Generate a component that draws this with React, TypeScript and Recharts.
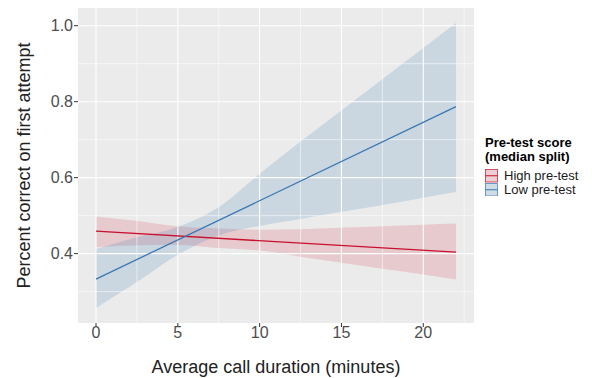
import { ComposedChart, Area, Line, XAxis, YAxis, CartesianGrid, ReferenceLine } from 'recharts';

// call duration (minutes) where the bands were read
const durations = [0, 2.5, 5, 7.5, 10, 12.5, 15, 17.5, 20, 22];

// High pre-test group
const highFit = [0.459, null, null, null, null, null, null, null, null, 0.404];
const highLower = [0.417, 0.422, 0.423, 0.415, 0.408, 0.392, 0.376, 0.36, 0.345, 0.332];
const highUpper = [0.498, 0.486, 0.472, 0.466, 0.463, 0.464, 0.468, 0.472, 0.476, 0.479];

// Low pre-test group
const lowFit = [0.333, null, null, null, null, null, null, null, null, 0.787];
const lowLower = [0.257, 0.325, 0.397, 0.448, 0.473, 0.491, 0.51, 0.528, 0.547, 0.562];
const lowUpper = [0.412, 0.443, 0.47, 0.522, 0.61, 0.695, 0.777, 0.859, 0.941, 1.007];

const xTicks = [0, 5, 10, 15, 20];
const xMinor = [2.5, 7.5, 12.5, 17.5, 22.5];
const yTicks = [0.4, 0.6, 0.8, 1.0];
const yMinor = [0.3, 0.5, 0.7, 0.9];

const HIGH_COLOR = '#C8102E';
const LOW_COLOR = '#3A78B3';
const HIGH_FILL = '#D6455C';
const LOW_FILL = '#4682B4';

const legendItems = [
  { label: 'High pre-test', color: HIGH_COLOR, fill: HIGH_FILL },
  { label: 'Low pre-test', color: LOW_COLOR, fill: LOW_FILL },
];

const data = durations.map((x, i) => ({
  x,
  highFit: highFit[i],
  highBand: [highLower[i], highUpper[i]],
  lowFit: lowFit[i],
  lowBand: [lowLower[i], lowUpper[i]],
}));

const FONT = '"Liberation Sans", Arial, sans-serif';

function LegendBox() {
  return (
    <div style={{ position: 'absolute', left: 485, top: 136, fontFamily: FONT, color: '#000' }}>
      <div style={{ fontSize: 13, fontWeight: 'bold', lineHeight: '14px' }}>Pre-test score</div>
      <div style={{ fontSize: 13, fontWeight: 'bold', lineHeight: '14px' }}>(median split)</div>
      <div style={{ marginTop: 5 }}>
        {legendItems.map((item) => (
          <div key={item.label} style={{ display: 'flex', alignItems: 'center', height: 13.5 }}>
            <svg width={13} height={13.5} style={{ display: 'block' }}>
              <rect x={0} y={0} width={13} height={13.5} fill="#F2F2F2" />
              <rect x={0.5} y={0.5} width={12} height={12.5} fill={item.fill} fillOpacity={0.2} stroke={item.color} strokeWidth={0.7} />
              <line x1={0.5} x2={12.5} y1={6.75} y2={6.75} stroke={item.color} strokeWidth={1} />
            </svg>
            <span style={{ fontSize: 13, lineHeight: '13.5px', marginLeft: 6, color: '#1a1a1a' }}>{item.label}</span>
          </div>
        ))}
      </div>
    </div>
  );
}

export default function App() {
  return (
    <div style={{ position: 'absolute', left: 0, top: 0, width: 592, height: 378, background: '#fff' }}>
      <ComposedChart
        width={592}
        height={378}
        data={data}
        margin={{ top: 8, right: 118, bottom: 0, left: 0 }}
        style={{ fontFamily: FONT }}
      >
        <CartesianGrid fill="#EBEBEB" horizontal={false} vertical={false} />
        {xMinor.map((v) => (
          <ReferenceLine key={'xm' + v} x={v} stroke="#FFFFFF" strokeWidth={0.55} />
        ))}
        {yMinor.map((v) => (
          <ReferenceLine key={'ym' + v} y={v} stroke="#FFFFFF" strokeWidth={0.55} />
        ))}
        {xTicks.map((v) => (
          <ReferenceLine key={'x' + v} x={v} stroke="#FFFFFF" strokeWidth={1.1} />
        ))}
        {yTicks.map((v) => (
          <ReferenceLine key={'y' + v} y={v} stroke="#FFFFFF" strokeWidth={1.1} />
        ))}
        <XAxis
          dataKey="x"
          type="number"
          domain={[-1.1, 23.1]}
          ticks={xTicks}
          allowDataOverflow
          height={55}
          axisLine={false}
          tickSize={4}
          tickMargin={0}
          tickLine={{ stroke: '#333333' }}
          tick={{ fill: '#4D4D4D', fontSize: 16 }}
          label={{ value: 'Average call duration (minutes)', position: 'insideBottom', offset: 5, fill: '#222', fontSize: 18 }}
        />
        <YAxis
          type="number"
          domain={[0.2174, 1.0466]}
          ticks={yTicks}
          allowDataOverflow
          width={78}
          axisLine={false}
          tickSize={4}
          tickMargin={1}
          tickLine={{ stroke: '#333333' }}
          tick={{ fill: '#4D4D4D', fontSize: 16 }}
          tickFormatter={(v: number) => v.toFixed(1)}
          label={{
            value: 'Percent correct on first attempt',
            angle: -90,
            position: 'insideLeft',
            offset: 24,
            fill: '#222',
            fontSize: 18,
            style: { textAnchor: 'middle' },
          }}
        />
        <Area
          type="monotone"
          dataKey="highBand"
          fill={HIGH_FILL}
          fillOpacity={0.2}
          stroke="none"
          isAnimationActive={false}
        />
        <Area
          type="monotone"
          dataKey="lowBand"
          fill={LOW_FILL}
          fillOpacity={0.2}
          stroke="none"
          isAnimationActive={false}
        />
        <Line type="linear" dataKey="highFit" stroke={HIGH_COLOR} strokeWidth={1.3} dot={false} connectNulls isAnimationActive={false} />
        <Line type="linear" dataKey="lowFit" stroke={LOW_COLOR} strokeWidth={1.3} dot={false} connectNulls isAnimationActive={false} />
      </ComposedChart>
      <LegendBox />
    </div>
  );
}
